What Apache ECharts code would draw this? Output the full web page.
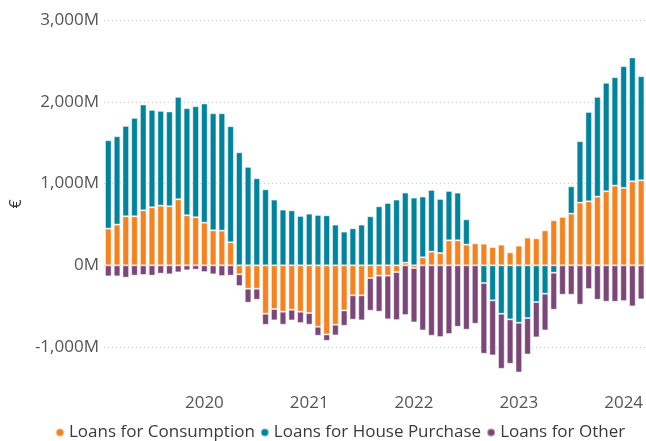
<!DOCTYPE html>
<html>
<head>
<meta charset="utf-8">
<script src="https://cdn.jsdelivr.net/npm/echarts@6/dist/echarts.min.js"></script>
<style>
  html, body { margin: 0; padding: 0; background: #fff; }
  #chart { width: 646px; height: 441px; }
</style>
</head>
<body>
<div id="chart"></div>
<script>
// monthly, Feb 2019 .. Mar 2024
const months = [
  '2019-02','2019-03','2019-04','2019-05','2019-06','2019-07','2019-08','2019-09','2019-10','2019-11','2019-12',
  '2020-01','2020-02','2020-03','2020-04','2020-05','2020-06','2020-07','2020-08','2020-09','2020-10','2020-11','2020-12',
  '2021-01','2021-02','2021-03','2021-04','2021-05','2021-06','2021-07','2021-08','2021-09','2021-10','2021-11','2021-12',
  '2022-01','2022-02','2022-03','2022-04','2022-05','2022-06','2022-07','2022-08','2022-09','2022-10','2022-11','2022-12',
  '2023-01','2023-02','2023-03','2023-04','2023-05','2023-06','2023-07','2023-08','2023-09','2023-10','2023-11','2023-12',
  '2024-01','2024-02','2024-03'
]

// values in millions of euro
const consumption = [
  449, 498, 600, 600, 673, 710, 730, 722, 808, 612, 588,
  522, 428, 424, 282, -110, -286, -286, -592, -534, -567, -543, -567,
  -583, -751, -845, -726, -551, -367, -367, -155, -126, -126, -82, 33,
  -33, 98, 167, 151, 306, 306, 253, 269, 265, 224, 253, 159,
  241, 339, 330, 428, 551, 592, 632, 767, 783, 840, 906, 975,
  947, 1028, 1040
]
const housePurchase = [
  1081, 1081, 1105, 1203, 1294, 1191, 1159, 1159, 1252, 1310, 1358,
  1457, 1432, 1436, 1419, 1383, 1204, 1065, 930, 804, 681, 673, 604,
  632, 616, 612, 498, 412, 453, 498, 600, 722, 763, 804, 857,
  828, 743, 755, 661, 604, 583, 310, 0, -216, -428, -592, -661,
  -702, -645, -449, -347, -90, 12, 335, 751, 1093, 1220, 1326, 1326,
  1489, 1514, 1273
]
const other = [
  -135, -135, -151, -126, -118, -126, -102, -110, -86, -61, -53,
  -82, -110, -131, -126, -143, -171, -135, -135, -139, -159, -131, -139,
  -143, -110, -78, -131, -188, -298, -306, -400, -441, -534, -588, -608,
  -665, -796, -861, -877, -840, -751, -787, -714, -865, -673, -673, -543,
  -608, -445, -432, -449, -453, -359, -359, -481, -290, -420, -445, -445,
  -437, -502, -416
]

const font = "'Segoe UI', 'Open Sans', sans-serif"
const barStyle = color => ({color: color, borderColor: 'rgba(255,255,255,0.45)', borderWidth: 1})

function makeSeries(name, data, color) {
  return {
    name: name,
    type: 'bar',
    stack: 'loans',
    data: data,
    barCategoryGap: '24%',
    itemStyle: barStyle(color)
  }
}

const chart = echarts.init(document.getElementById('chart'))
chart.setOption({
  animation: false,
  textStyle: {fontFamily: font},
  grid: {left: 102, top: 20, width: 545, bottom: 53},
  legend: {
    bottom: -5,
    left: 50,
    icon: 'circle',
    itemWidth: 8,
    itemHeight: 8,
    itemGap: 5,
    textStyle: {fontSize: 17, color: '#3b3a39', fontFamily: font}
  },
  xAxis: {
    type: 'category',
    data: months,
    axisLine: {show: false, onZero: false},
    axisTick: {show: false},
    axisLabel: {
      interval: (i, v) => v.endsWith('-01'),
      formatter: v => v.slice(0, 4),
      margin: 7,
      fontSize: 17,
      color: '#555',
      fontFamily: font
    }
  },
  yAxis: {
    type: 'value',
    min: -1500,
    max: 3000,
    splitNumber: 5,
    name: '€',
    nameLocation: 'middle',
    nameGap: 78,
    nameTextStyle: {fontSize: 16, color: '#333', fontFamily: font},
    axisLabel: {
      showMinLabel: false,
      margin: 5,
      fontSize: 17,
      color: '#555',
      fontFamily: font,
      formatter: v => v.toLocaleString('en-US') + 'M'
    },
    splitLine: {showMinLine: false, lineStyle: {type: [1, 3], color: '#c8c8c8'}}
  },
  series: [
    makeSeries('Loans for Consumption', consumption, '#F5821F'),
    makeSeries('Loans for House Purchase', housePurchase, '#00849E'),
    makeSeries('Loans for Other', other, '#7C4679')
  ]
})
</script>
</body>
</html>
